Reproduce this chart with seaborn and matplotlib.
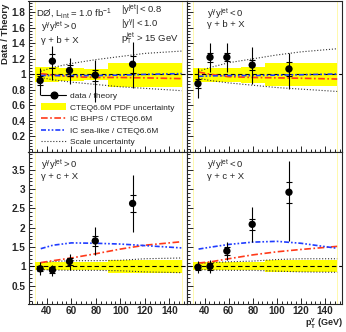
import numpy as np
import matplotlib
matplotlib.use("Agg")
import matplotlib.pyplot as plt
from matplotlib.lines import Line2D
from matplotlib.patches import Patch
from matplotlib.ticker import MultipleLocator, FuncFormatter
import seaborn as sns

# ---- data -------------------------------------------------------------
bin_edges = [30, 40, 50, 70, 90, 150]
pt_points = [34.5, 44.5, 58.5, 79.5, 110]
curve_pt = [35, 45, 60, 80, 100, 120, 150]

# panel order: b_pos, b_neg, c_pos, c_neg
ratio = {
    "b_pos": [0.92, 1.17, 1.05, 0.99, 1.13],
    "b_neg": [0.88, 1.22, 1.22, 1.12, 1.07],
    "c_pos": [0.94, 0.91, 1.13, 1.66, 2.63],
    "c_neg": [0.98, 1.00, 1.40, 2.09, 2.92],
}
err_up = {
    "b_pos": [0.16, 0.19, 0.16, 0.20, 0.29],
    "b_neg": [0.20, 0.19, 0.18, 0.23, 0.20],
    "c_pos": [0.17, 0.12, 0.19, 0.36, 0.74],
    "c_neg": [0.17, 0.18, 0.23, 0.44, 0.82],
}
err_dn = {
    "b_pos": [0.19, 0.24, 0.17, 0.34, 0.31],
    "b_neg": [0.18, 0.19, 0.19, 0.24, 0.26],
    "c_pos": [0.16, 0.16, 0.22, 0.36, 0.73],
    "c_neg": [0.16, 0.16, 0.24, 0.46, 1.25],
}
err_stat = {
    "b_pos": [0.06, 0.09, 0.07, 0.07, 0.11],
    "b_neg": [0.06, 0.06, 0.05, 0.065, 0.09],
    "c_pos": [0.06, 0.07, 0.09, 0.13, 0.21],
    "c_neg": [0.07, 0.08, 0.10, 0.15, 0.27],
}
pdf_hi = {
    "b_pos": [1.09, 1.09, 1.08, 1.07, 1.15],
    "b_neg": [1.08, 1.08, 1.08, 1.09, 1.15],
    "c_pos": [1.12, 1.12, 1.12, 1.12, 1.18],
    "c_neg": [1.11, 1.11, 1.11, 1.11, 1.17],
}
pdf_lo = {
    "b_pos": [0.90, 0.90, 0.91, 0.93, 0.84],
    "b_neg": [0.90, 0.90, 0.90, 0.89, 0.85],
    "c_pos": [0.91, 0.91, 0.92, 0.92, 0.84],
    "c_neg": [0.91, 0.91, 0.92, 0.92, 0.85],
}
ic_bhps = {
    "b_pos": [1.01, 0.99, 0.97, 0.96, 0.96, 0.955, 0.945],
    "b_neg": [1.03, 1.00, 0.97, 0.96, 0.955, 0.95, 0.94],
    "c_pos": [1.10, 1.15, 1.22, 1.33, 1.45, 1.55, 1.64],
    "c_neg": [1.09, 1.12, 1.20, 1.30, 1.38, 1.44, 1.52],
}
ic_sea = {
    "b_pos": [0.985, 0.985, 0.985, 0.985, 0.99, 1.0, 1.01],
    "b_neg": [0.975, 0.98, 0.985, 0.985, 0.99, 0.995, 1.005],
    "c_pos": [1.46, 1.55, 1.61, 1.60, 1.58, 1.54, 1.48],
    "c_neg": [1.45, 1.50, 1.57, 1.63, 1.65, 1.60, 1.47],
}
scale_hi = {
    "b_pos": [1.04, 1.09, 1.14, 1.19, 1.23, 1.27, 1.30],
    "b_neg": [1.04, 1.09, 1.15, 1.20, 1.25, 1.29, 1.33],
    "c_pos": [1.10, 1.13, 1.15, 1.15, 1.16, 1.20, 1.22],
    "c_neg": [1.08, 1.10, 1.12, 1.14, 1.18, 1.20, 1.20],
}
scale_lo = {
    "b_pos": [0.96, 0.93, 0.90, 0.87, 0.84, 0.82, 0.79],
    "b_neg": [0.95, 0.92, 0.89, 0.86, 0.83, 0.81, 0.78],
    "c_pos": [0.92, 0.91, 0.90, 0.90, 0.89, 0.86, 0.84],
    "c_neg": [0.92, 0.91, 0.90, 0.90, 0.88, 0.86, 0.85],
}
panel_titles = {
    "b_pos": ("$\\mathregular{y^{γ}y^{jet} > 0}$", "γ + b + X"),
    "b_neg": ("$\\mathregular{y^{γ}y^{jet} < 0}$", "γ + b + X"),
    "c_pos": ("$\\mathregular{y^{γ}y^{jet} > 0}$", "γ + c + X"),
    "c_neg": ("$\\mathregular{y^{γ}y^{jet} < 0}$", "γ + c + X"),
}

# ---- style -------------------------------------------------------------
sns.set_theme(style="ticks")
plt.rcParams["font.family"] = ["Liberation Sans", "DejaVu Sans"]
plt.rcParams["mathtext.fontset"] = "custom"
plt.rcParams["mathtext.rm"] = "Liberation Sans"
plt.rcParams["mathtext.bf"] = "Liberation Sans:bold"

RED = "#ff3a1a"
BLUE = "#1f3cff"
YELLOW = "#ffff00"
FS = 6.8

fig = plt.figure(figsize=(3.46, 3.32), dpi=100)
L, R, B, T = 28.5 / 346, 342 / 346, 28 / 332, 331 / 332
xmid = 186.5 / 346
ymid = (332 - 152) / 332
pos = {
    "b_pos": [L, ymid, xmid - L, T - ymid],
    "b_neg": [xmid, ymid, R - xmid, T - ymid],
    "c_pos": [L, B, xmid - L, ymid - B],
    "c_neg": [xmid, B, R - xmid, ymid - B],
}
fmt = FuncFormatter(lambda v, p: f"{v:g}")

axes = {}
for key in ["b_pos", "b_neg", "c_pos", "c_neg"]:
    ax = fig.add_axes(pos[key])
    axes[key] = ax
    top = key.startswith("b")

    # pdf band
    hi = pdf_hi[key] + [pdf_hi[key][-1]]
    lo = pdf_lo[key] + [pdf_lo[key][-1]]
    ax.fill_between(bin_edges, lo, hi, step="post", color=YELLOW, lw=0, zorder=1)
    for xe in (bin_edges[0], bin_edges[-1]):
        ax.axvline(xe, color="#fff8a0", lw=0.6, zorder=0.5)
    ax.axhline(1.0, color="black", lw=0.8, dashes=(4, 2.5), zorder=2)

    # scale uncertainty
    for vals in (scale_hi[key], scale_lo[key]):
        sns.lineplot(x=curve_pt, y=vals, ax=ax, color="#333333", lw=0.8,
                     linestyle=":", zorder=3)
    # IC curves
    sns.lineplot(x=curve_pt, y=ic_bhps[key], ax=ax, color=RED, lw=1.2, zorder=4)
    ax.lines[-1].set_dashes((4, 1.5, 1, 1.5))
    sns.lineplot(x=curve_pt, y=ic_sea[key], ax=ax, color=BLUE, lw=1.2, zorder=4)
    ax.lines[-1].set_dashes((3, 1.2, 1, 1.2, 1, 1.2))

    # data
    ax.errorbar(pt_points, ratio[key], yerr=[err_dn[key], err_up[key]],
                fmt="none", ecolor="black", elinewidth=0.8, zorder=5)
    ax.errorbar(pt_points, ratio[key], yerr=err_stat[key], fmt="none",
                ecolor="black", elinewidth=0, capsize=2.2, capthick=0.8, zorder=5)
    sns.scatterplot(x=pt_points, y=ratio[key], ax=ax, color="black", s=28,
                    edgecolor="none", zorder=6)

    ax.set_xlim(25, 154)
    if top:
        ax.set_ylim(0, 1.945)
        ax.set_yticks(np.arange(0.2, 1.81, 0.2))
        ax.yaxis.set_minor_locator(MultipleLocator(0.04))
    else:
        ax.set_ylim(0.03, 3.96)
        ax.set_yticks(np.arange(0.5, 3.51, 0.5))
        ax.yaxis.set_minor_locator(MultipleLocator(0.1))
    ax.set_xticks(np.arange(40, 141, 20))
    ax.xaxis.set_minor_locator(MultipleLocator(4))
    ax.yaxis.set_major_formatter(fmt)
    ax.tick_params(which="both", direction="in", labelsize=7.2, width=0.7,
                   top=False, right=False, pad=2)
    ax.tick_params(which="major", length=4)
    ax.tick_params(which="minor", length=2)
    ax.tick_params(axis="x", pad=1.5)
    for lab in ax.get_xticklabels() + ax.get_yticklabels():
        lab.set_fontweight("bold")
    if top:
        ax.tick_params(axis="x", labelbottom=False)
    if key.endswith("neg"):
        ax.tick_params(axis="y", labelleft=False)
    for sp in ax.spines.values():
        sp.set_linewidth(0.8)
    ax.set_xlabel("")
    ax.set_ylabel("")

    t1, t2 = panel_titles[key]
    tx = 0.08 if key.endswith("pos") else 0.13
    if key == "b_pos":
        y1, y2 = 0.83, 0.74
    elif top:
        y1, y2 = 0.915, 0.845
    else:
        y1, y2 = 0.915, 0.84
    ax.text(tx, y1, t1, transform=ax.transAxes, fontsize=FS, va="center")
    ax.text(tx, y2, t2, transform=ax.transAxes, fontsize=FS, va="center")

ax = axes["b_pos"]
ax.text(0.045, 0.965, "DØ, $\\mathregular{L_{int}}$ = 1.0 $\\mathregular{fb^{-1}}$",
        transform=ax.transAxes, fontsize=FS, va="top")
ax.text(0.585, 0.94, "$\\mathregular{|y^{jet}| < 0.8}$", transform=ax.transAxes,
        fontsize=FS, va="center")
ax.text(0.585, 0.85, "$\\mathregular{|y^{γ}| < 1.0}$", transform=ax.transAxes,
        fontsize=FS, va="center")
ax.text(0.585, 0.755, "$\\mathregular{p_T^{jet}}$ > 15 GeV", transform=ax.transAxes,
        fontsize=FS, va="center")

handles = [
    Line2D([], [], color="black", lw=0.8, marker="o", ms=4.8),
    Patch(facecolor=YELLOW, edgecolor="none"),
    Line2D([], [], color=RED, lw=1.2, dashes=(4, 1.5, 1, 1.5)),
    Line2D([], [], color=BLUE, lw=1.2, dashes=(3, 1.2, 1, 1.2, 1, 1.2)),
    Line2D([], [], color="#333333", lw=0.8, linestyle=":"),
]
labels = ["data / theory", "CTEQ6.6M PDF uncertainty", "IC BHPS / CTEQ6.6M",
          "IC sea-like / CTEQ6.6M", "Scale uncertainty"]
ax.legend(handles, labels, loc="lower left", bbox_to_anchor=(0.045, 0.0),
          frameon=False, fontsize=6.0, handlelength=2.9, handletextpad=0.55,
          labelspacing=0.38, borderpad=0.2, handleheight=0.9)

fig.text(0.016, 0.99, "Data / Theory", rotation=90, ha="center", va="top",
         fontsize=6.8, fontweight="bold")
fig.text(0.99, 0.025, "$\\mathbf{p_T^{γ}}$ (GeV)", ha="right", va="center",
         fontsize=6.5, fontweight="bold")

fig.savefig("out.png", dpi=100)
